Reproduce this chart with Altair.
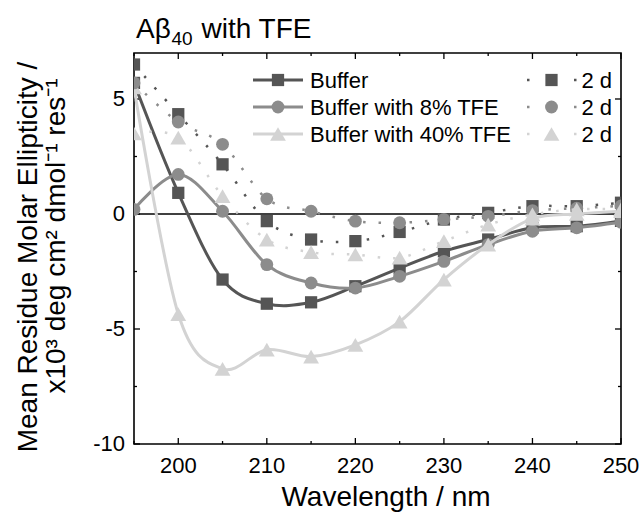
import altair as alt
import pandas as pd

# ---------------- data ----------------
wavelength = [195, 200, 205, 210, 215, 220, 225, 230, 235, 240, 245, 250]
buffer_0d = [5.7, 0.92, -2.85, -3.9, -3.84, -3.14, -2.35, -1.62, -1.11, -0.6, -0.53, -0.3]
tfe8_0d = [0.2, 1.72, 0.12, -2.2, -3.0, -3.22, -2.71, -2.06, -1.33, -0.75, -0.6, -0.36]
tfe40_0d = [5.5, -4.35, -6.73, -5.9, -6.2, -5.69, -4.68, -2.85, -1.33, -0.2, 0.0, 0.12]
buffer_2d = [6.5, 4.34, 2.16, -0.31, -1.11, -1.18, -0.78, -0.24, 0.05, 0.34, 0.34, 0.49]
tfe8_2d = [5.7, 4.0, 3.03, 0.66, 0.12, -0.31, -0.38, -0.24, -0.1, 0.15, 0.25, 0.35]
tfe40_2d = [3.5, 3.32, 0.78, -1.11, -1.66, -1.76, -1.9, -1.18, -0.46, -0.02, 0.2, 0.2]

series_labels = ["Buffer", "Buffer with 8% TFE", "Buffer with 40% TFE"]
aged_label = "2 d"
title_parts = ["Aβ", "40", "with TFE"]
y_title_lines = ["Mean Residue Molar Ellipticity /", "x10³ deg cm² dmol⁻¹ res⁻¹"]
x_title = "Wavelength / nm"

x_major = [200, 210, 220, 230, 240, 250]
x_minor = [195, 205, 215, 225, 235, 245]
y_major = [-10, -5, 0, 5]
y_minor = [-7.5, -2.5, 2.5]

# ---------------- styling ----------------
W, H = 487, 391
FONT = "Liberation Sans"
colors = ["#555555", "#8c8c8c", "#d3d3d3"]
shapes = ["square", "circle", "triangle-up"]
sizes = [150, 165, 250]
DASH = [2.5, 13]

xs = alt.Scale(domain=[195, 250], nice=False, zero=False)
ys = alt.Scale(domain=[-10, 7], nice=False, zero=False)

fresh = [buffer_0d, tfe8_0d, tfe40_0d]
aged = [buffer_2d, tfe8_2d, tfe40_2d]

layers = []

# zero line
zero_df = pd.DataFrame({"v": [0]})
layers.append(alt.Chart(zero_df).mark_rule(color="black", strokeWidth=1.3).encode(
    y=alt.Y("v:Q", scale=ys, axis=None)))

# inward ticks on all four sides
def xticks(vals, length):
    df = pd.DataFrame({"v": vals})
    bottom = alt.Chart(df).mark_rule(color="black", strokeWidth=1.3).encode(
        x=alt.X("v:Q", scale=xs, axis=None), y=alt.value(H), y2=alt.value(H - length))
    top = alt.Chart(df).mark_rule(color="black", strokeWidth=1.3).encode(
        x=alt.X("v:Q", scale=xs, axis=None), y=alt.value(0), y2=alt.value(length))
    return [bottom, top]

def yticks(vals, length):
    df = pd.DataFrame({"v": vals})
    left = alt.Chart(df).mark_rule(color="black", strokeWidth=1.3).encode(
        y=alt.Y("v:Q", scale=ys, axis=None), x=alt.value(0), x2=alt.value(length))
    right = alt.Chart(df).mark_rule(color="black", strokeWidth=1.3).encode(
        y=alt.Y("v:Q", scale=ys, axis=None), x=alt.value(W), x2=alt.value(W - length))
    return [left, right]

layers += xticks(x_major, 6) + xticks(x_minor, 3) + yticks(y_major, 6) + yticks(y_minor, 3)

# tick labels (drawn through the scales)
xl = pd.DataFrame({"v": x_major, "lab": [str(v) for v in x_major]})
layers.append(alt.Chart(xl).mark_text(align="center", baseline="top", fontSize=22,
                                      font=FONT, color="black").encode(
    x=alt.X("v:Q", scale=xs, axis=None), y=alt.value(H + 12), text="lab:N"))
yl = pd.DataFrame({"v": y_major, "lab": [str(v) for v in y_major]})
layers.append(alt.Chart(yl).mark_text(align="right", baseline="middle", fontSize=22,
                                      font=FONT, color="black").encode(
    y=alt.Y("v:Q", scale=ys, axis=None), x=alt.value(-9), text="lab:N"))

# data series
for i in range(3):
    df = pd.DataFrame({"wavelength": wavelength, "value": fresh[i]})
    enc = dict(x=alt.X("wavelength:Q", scale=xs, axis=None),
               y=alt.Y("value:Q", scale=ys, axis=None))
    layers.append(alt.Chart(df).mark_line(color=colors[i], strokeWidth=3,
                                          interpolate="cardinal", clip=True).encode(**enc))
    layers.append(alt.Chart(df).mark_point(color=colors[i], filled=True, opacity=1,
                                           shape=shapes[i], size=sizes[i], clip=True).encode(**enc))
for i in range(3):
    df = pd.DataFrame({"wavelength": wavelength, "value": aged[i]})
    enc = dict(x=alt.X("wavelength:Q", scale=xs, axis=None),
               y=alt.Y("value:Q", scale=ys, axis=None))
    layers.append(alt.Chart(df).mark_line(color=colors[i], strokeWidth=2.5, strokeDash=DASH,
                                          interpolate="cardinal", clip=True).encode(**enc))
    layers.append(alt.Chart(df).mark_point(color=colors[i], filled=True, opacity=1,
                                           shape=shapes[i], size=sizes[i], clip=True).encode(**enc))

# legend (manual, two columns)
row_y = [27, 54, 81]
for i in range(3):
    d = pd.DataFrame({"t": [series_labels[i]]})
    layers.append(alt.Chart(d).mark_rule(color=colors[i], strokeWidth=3).encode(
        x=alt.value(119), x2=alt.value(169), y=alt.value(row_y[i])))
    layers.append(alt.Chart(d).mark_point(color=colors[i], filled=True, opacity=1,
                                          shape=shapes[i], size=sizes[i]).encode(
        x=alt.value(144), y=alt.value(row_y[i])))
    layers.append(alt.Chart(d).mark_text(align="left", baseline="middle", fontSize=22,
                                         font=FONT, color="black").encode(
        text="t:N", x=alt.value(176), y=alt.value(row_y[i] + 1)))
    d2 = pd.DataFrame({"t": [aged_label]})
    layers.append(alt.Chart(d2).mark_rule(color=colors[i], strokeWidth=2.5,
                                          strokeDash=[2.5, 21]).encode(
        x=alt.value(393), x2=alt.value(443), y=alt.value(row_y[i])))
    layers.append(alt.Chart(d2).mark_point(color=colors[i], filled=True, opacity=1,
                                           shape=shapes[i], size=sizes[i]).encode(
        x=alt.value(417.5), y=alt.value(row_y[i])))
    layers.append(alt.Chart(d2).mark_text(align="left", baseline="middle", fontSize=22,
                                          font=FONT, color="black").encode(
        text="t:N", x=alt.value(447.5), y=alt.value(row_y[i] + 1)))

# title with subscript
tdf = [pd.DataFrame({"t": [p]}) for p in title_parts]
layers.append(alt.Chart(tdf[0]).mark_text(align="left", baseline="alphabetic", fontSize=28,
                                          font=FONT, color="black").encode(
    text="t:N", x=alt.value(2), y=alt.value(-15)))
layers.append(alt.Chart(tdf[1]).mark_text(align="left", baseline="alphabetic", fontSize=19,
                                          font=FONT, color="black").encode(
    text="t:N", x=alt.value(37.5), y=alt.value(-8.5)))
layers.append(alt.Chart(tdf[2]).mark_text(align="left", baseline="alphabetic", fontSize=28,
                                          font=FONT, color="black").encode(
    text="t:N", x=alt.value(67.5), y=alt.value(-15)))

# y axis title (two lines)
ydf = [pd.DataFrame({"t": [s]}) for s in y_title_lines]
layers.append(alt.Chart(ydf[0]).mark_text(align="center", baseline="alphabetic", fontSize=28,
                                          angle=270, font=FONT, color="black").encode(
    text="t:N", x=alt.value(-97), y=alt.value(204)))
layers.append(alt.Chart(ydf[1]).mark_text(align="center", baseline="alphabetic", fontSize=28,
                                          angle=270, font=FONT, color="black").encode(
    text="t:N", x=alt.value(-69), y=alt.value(183)))

# x axis title
xdf = pd.DataFrame({"t": [x_title]})
layers.append(alt.Chart(xdf).mark_text(align="center", baseline="alphabetic", fontSize=28,
                                       font=FONT, color="black").encode(
    text="t:N", x=alt.value(252), y=alt.value(H + 62)))

chart = alt.layer(*layers).properties(
    width=W, height=H,
    padding={"left": 134, "top": 53, "right": 20, "bottom": 72},
    autosize="none",
).configure_view(stroke="black", strokeWidth=1.6)

chart.save("out.html", embed_options={"renderer": "svg", "actions": False})
